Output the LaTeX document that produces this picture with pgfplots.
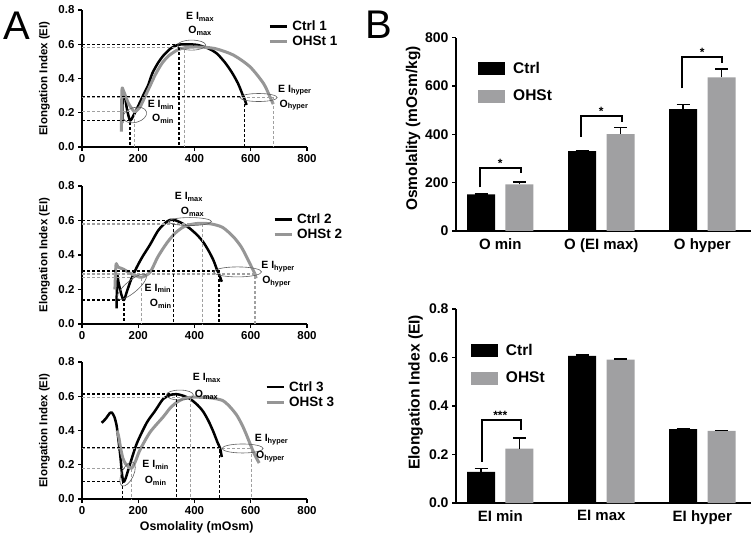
\documentclass[border=0pt]{standalone}
\usepackage{pgfplots}
\pgfplotsset{compat=1.18}
\usepackage{fontspec}
\setmainfont{Liberation Sans}
\usetikzlibrary{shapes.geometric}
\definecolor{ohst}{RGB}{150,150,150}
\definecolor{ohstbar}{RGB}{160,160,162}
\definecolor{dashgray}{RGB}{160,160,160}
\definecolor{ringc}{RGB}{95,95,95}
\newcommand{\fs}[1]{\fontsize{#1}{#1}\selectfont\bfseries}
\newcommand{\sub}[1]{\textsubscript{\textbf{#1}}}

\tikzset{
  ring/.style={ellipse, draw=ringc, line width=0.6pt, inner sep=0pt},
  note/.style={font=\fs{10.5}},
}
\pgfplotsset{
  prism/.style={
    scale only axis, clip=false,
    axis x line=bottom, axis y line=left,
    axis line style={-, line width=1.6pt},
    tick align=outside, major tick length=4pt,
    tick style={line width=1.4pt, black},
    /pgf/number format/assume math mode=true,
    legend cell align=left,
  },
  panelA/.style={prism, width=225pt, xmin=0, xmax=800, ymin=0, ymax=0.8,
    xtick={0,200,400,600,800}, ytick={0,0.2,0.4,0.6,0.8},
    ticklabel style={font=\fs{11.5}},
    yticklabel style={/pgf/number format/.cd, fixed, fixed zerofill, precision=1},
    ylabel={Elongation Index (EI)},
    ylabel style={at={(axis description cs:-0.167,0.5)}, anchor=center, font=\fs{11.5}},
    legend image code/.code={\draw[##1] (0pt,0pt) -- (17pt,0pt);},
    legend style={draw=none, fill=none, anchor=north west, inner sep=0pt,
      font=\fs{13.5}, row sep=0pt, column sep=2pt},
  },
  panelB/.style={prism, width=295pt, xmin=-0.4386, xmax=2.482, ymin=0,
    axis line style={line width=2pt},
    xtick={0,1,2}, x tick style={draw=none},
    xticklabel style={font=\fs{15}},
    yticklabel style={font=\fs{14}},
    legend image code/.code={\fill[##1] (0pt,-6.5pt) rectangle (27pt,6.5pt);},
    legend style={draw=none, fill=none, anchor=north west, inner sep=0pt,
      font=\fs{15.5}, row sep=11pt, column sep=6pt},
  },
  ctrl/.style={black, line width=2.5pt, smooth, tension=0.45, line join=round},
  oh/.style={ohst, line width=3pt, smooth, tension=0.45, line join=round},
  bd/.style={black, line width=1.3pt, dash pattern=on 3pt off 2pt, forget plot},
  gd/.style={dashgray, line width=1.1pt, dash pattern=on 3pt off 2pt, forget plot},
  cbar/.style={ybar, bar width=28pt, bar shift=0pt, fill=black, draw=none},
  obar/.style={ybar, bar width=28pt, bar shift=0pt, fill=ohstbar, draw=none},
  eb/.style={draw=none, mark=none, forget plot,
    error bars/.cd, y dir=plus, y explicit,
    error bar style={draw=black, solid, line width=1.6pt},
    error mark options={draw=black, rotate=90, mark size=6.5pt, line width=1.6pt}},
  brk/.style={black, line width=2pt, forget plot},
}

\begin{document}
\begin{tikzpicture}
\useasboundingbox (0,0) rectangle (755pt,539pt);
\node[font=\fontsize{40}{40}\selectfont] at (17pt,513pt) {A};
\node[font=\fontsize{40}{40}\selectfont] at (379pt,514pt) {B};

% ---------- A1 ----------
\begin{axis}[panelA, at={(82pt,392pt)}, anchor=south west, height=137pt,
  legend style={at={(axis description cs:0.827,0.935)}}]
\addplot[ctrl] coordinates {(143,0.14) (145,0.30) (152,0.30) (160,0.22) (171,0.155) (185,0.19)
  (200,0.24) (220,0.31) (235,0.36) (250,0.43) (270,0.49) (290,0.535) (315,0.575) (340,0.596)
  (370,0.60) (410,0.596) (450,0.575) (480,0.545) (510,0.49) (535,0.43) (555,0.37) (570,0.31)
  (580,0.27) (585,0.245)};
\addplot[oh] coordinates {(140,0.09) (142,0.33) (147,0.33) (165,0.255) (180,0.218) (188,0.206)
  (205,0.23) (220,0.28) (240,0.35) (260,0.42) (285,0.49) (310,0.535) (340,0.567) (366,0.58)
  (400,0.584) (440,0.582) (480,0.572) (538,0.537) (597,0.469) (645,0.372) (668,0.294) (680,0.25)};
\legend{Ctrl 1, OHSt 1}
\addplot[gd] coordinates {(0,0.206) (188,0.206) (188,0)};
\addplot[gd] coordinates {(0,0.580) (366,0.580) (366,0)};
\addplot[gd] coordinates {(0,0.288) (680,0.288) (680,0)};
\addplot[bd] coordinates {(0,0.155) (171,0.155) (171,0)};
\addplot[bd] coordinates {(0,0.600) (345,0.600) (345,0)};
\addplot[bd] coordinates {(0,0.296) (577,0.296) (577,0)};
\node[ring, minimum width=28pt, minimum height=10pt] at (axis cs:390,0.595) {};
\node[ring, minimum width=24pt, minimum height=15pt, rotate=15] at (axis cs:188,0.187) {};
\node[ring, minimum width=37pt, minimum height=8pt] at (axis cs:628,0.289) {};
\node[note] at (axis cs:420,0.759) {E I\sub{max}};
\node[note] at (axis cs:420,0.677) {O\sub{max}};
\node[note] at (axis cs:281,0.245) {E I\sub{min}};
\node[note] at (axis cs:288,0.163) {O\sub{min}};
\node[note] at (axis cs:757,0.333) {E I\sub{hyper}};
\node[note] at (axis cs:754,0.245) {O\sub{hyper}};
\end{axis}

% ---------- A2 ----------
\begin{axis}[panelA, at={(82pt,215pt)}, anchor=south west, height=138pt,
  legend style={at={(axis description cs:0.849,0.815)}}]
\addplot[ctrl] coordinates {(123,0.09) (125,0.28) (130,0.24) (140,0.17) (149,0.139) (160,0.19)
  (175,0.26) (195,0.33) (215,0.39) (242,0.46) (270,0.54) (295,0.585) (313,0.603) (330,0.602)
  (355,0.585) (384,0.553) (410,0.515) (431,0.475) (450,0.425) (467,0.371) (480,0.315)
  (487,0.29) (497,0.245)};
\addplot[oh] coordinates {(117,0.20) (121,0.345) (128,0.33) (147,0.318) (171,0.294) (195,0.278)
  (212,0.271) (242,0.30) (270,0.39) (301,0.468) (330,0.525) (360,0.562) (390,0.578) (420,0.584)
  (460,0.58) (500,0.56) (538,0.506) (565,0.45) (585,0.39) (603,0.33) (615,0.29) (619,0.265)};
\legend{Ctrl 2, OHSt 2}
\addplot[gd] coordinates {(0,0.271) (212,0.271) (212,0)};
\addplot[gd] coordinates {(0,0.580) (428,0.580) (428,0)};
\addplot[gd] coordinates {(0,0.290) (615,0.290) (615,0)};
\addplot[bd] coordinates {(0,0.139) (149,0.139) (149,0)};
\addplot[bd] coordinates {(0,0.600) (325,0.600) (325,0)};
\addplot[bd] coordinates {(0,0.307) (487,0.307) (487,0)};
\node[ring, minimum width=43pt, minimum height=8pt] at (axis cs:384,0.594) {};
\node[ring, minimum width=37pt, minimum height=12pt, rotate=40] at (axis cs:177,0.216) {};
\node[ring, minimum width=48pt, minimum height=10pt] at (axis cs:553,0.302) {};
\node[note] at (axis cs:380,0.737) {E I\sub{max}};
\node[note] at (axis cs:393,0.651) {O\sub{max}};
\node[note] at (axis cs:270,0.207) {E I\sub{min}};
\node[note] at (axis cs:280,0.116) {O\sub{min}};
\node[note] at (axis cs:697,0.332) {E I\sub{hyper}};
\node[note] at (axis cs:692,0.245) {O\sub{hyper}};
\end{axis}

% ---------- A3 ----------
\begin{axis}[panelA, at={(82pt,40pt)}, anchor=south west, height=137pt,
  legend style={at={(axis description cs:0.813,0.875)}},
  xlabel={Osmolality (mOsm)},
  xlabel style={at={(axis description cs:0.51,-0.204)}, anchor=center, font=\fs{12.4}}]
\addplot[ctrl] coordinates {(70,0.445) (85,0.47) (98,0.50) (106,0.505) (115,0.48) (123,0.43)
  (130,0.34) (137,0.24) (142,0.15) (147,0.10) (155,0.12) (171,0.205) (195,0.325) (230,0.445)
  (260,0.515) (289,0.585) (315,0.608) (337,0.612) (360,0.603) (384,0.585) (410,0.55)
  (431,0.51) (450,0.455) (467,0.393) (482,0.33) (491,0.296) (497,0.245)};
\addplot[oh] coordinates {(125,0.40) (131,0.36) (137,0.30) (145,0.24) (155,0.205) (168,0.185)
  (177,0.18) (190,0.22) (206,0.286) (242,0.39) (289,0.48) (313,0.53) (337,0.565) (360,0.585)
  (386,0.594) (420,0.594) (460,0.59) (500,0.575) (525,0.54) (550,0.49) (570,0.43) (585,0.374)
  (603,0.30) (615,0.255) (630,0.21)};
\legend{Ctrl 3, OHSt 3}
\addplot[gd] coordinates {(0,0.179) (177,0.179) (177,0)};
\addplot[gd] coordinates {(0,0.594) (386,0.594) (386,0)};
\addplot[gd] coordinates {(0,0.296) (603,0.296) (603,0)};
\addplot[bd] coordinates {(0,0.101) (145,0.101) (145,0)};
\addplot[bd] coordinates {(0,0.613) (337,0.613) (337,0)};
\addplot[bd] coordinates {(0,0.302) (488,0.302) (488,0)};
\node[ring, minimum width=27pt, minimum height=10pt] at (axis cs:348,0.607) {};
\node[ring, minimum width=26pt, minimum height=12pt, rotate=65] at (axis cs:162,0.146) {};
\node[ring, minimum width=41pt, minimum height=9pt] at (axis cs:571,0.295) {};
\node[note] at (axis cs:444,0.707) {E I\sub{max}};
\node[note] at (axis cs:443,0.607) {O\sub{max}};
\node[note] at (axis cs:262,0.199) {E I\sub{min}};
\node[note] at (axis cs:262,0.106) {O\sub{min}};
\node[note] at (axis cs:674,0.345) {E I\sub{hyper}};
\node[note] at (axis cs:670,0.247) {O\sub{hyper}};
\end{axis}

% ---------- B1 ----------
\begin{axis}[panelB, at={(456pt,308pt)}, anchor=south west, height=193.3pt,
  ymax=800, ytick={0,200,400,600,800},
  xticklabels={O min, O (EI max), O hyper},
  ylabel={Osmolality (mOsm/kg)},
  ylabel style={at={(axis description cs:-0.145,0.53)}, anchor=center, font=\fs{15.5}},
  legend style={at={(axis description cs:0.0746,0.885)}}]
\addplot[cbar] coordinates {(-0.19,152) (0.81,331) (1.81,504)};
\addplot[obar] coordinates {(0.19,193) (1.19,401) (2.19,636)};
\legend{Ctrl, OHSt}
\addplot[eb] coordinates {(-0.19,152) +- (0,1) (0.81,331) +- (0,1.5) (1.81,504) +- (0,20)};
\addplot[eb] coordinates {(0.19,193) +- (0,11) (1.19,401) +- (0,27) (2.19,636) +- (0,34)};
\addplot[brk] coordinates {(-0.2,181) (-0.2,259) (0.2,259) (0.2,239)};
\addplot[brk] coordinates {(0.8,390) (0.8,476) (1.2,476) (1.2,452)};
\addplot[brk] coordinates {(1.8,590) (1.8,719) (2.19,719) (2.19,694)};
\node[font=\fs{12}, anchor=base] at (axis cs:0,262) {*};
\node[font=\fs{12}, anchor=base] at (axis cs:1,479) {*};
\node[font=\fs{12}, anchor=base] at (axis cs:2,722) {*};
\end{axis}

% ---------- B2 ----------
\begin{axis}[panelB, at={(456pt,36pt)}, anchor=south west, height=194pt,
  ymax=0.8, ytick={0,0.2,0.4,0.6,0.8},
  yticklabel style={/pgf/number format/.cd, fixed, fixed zerofill, precision=1},
  xticklabels={EI min, EI max, EI hyper},
  ylabel={Elongation Index (EI)},
  ylabel style={at={(axis description cs:-0.137,0.57)}, anchor=center, font=\fs{15.6}},
  legend style={at={(axis description cs:0.05,0.83)}}]
\addplot[cbar] coordinates {(-0.19,0.128) (0.81,0.607) (1.81,0.305)};
\addplot[obar] coordinates {(0.19,0.224) (1.19,0.591) (2.19,0.297)};
\legend{Ctrl, OHSt}
\addplot[eb] coordinates {(-0.19,0.128) +- (0,0.015) (0.81,0.607) +- (0,0.003) (1.81,0.305) +- (0,0.001)};
\addplot[eb] coordinates {(0.19,0.224) +- (0,0.043) (1.19,0.591) +- (0,0.003) (2.19,0.297) +- (0,0.002)};
\addplot[brk] coordinates {(-0.184,0.170) (-0.184,0.342) (0.2,0.342) (0.2,0.301)};
\node[font=\fs{12}, anchor=base] at (axis cs:0,0.346) {***};
\end{axis}
\end{tikzpicture}
\end{document}
